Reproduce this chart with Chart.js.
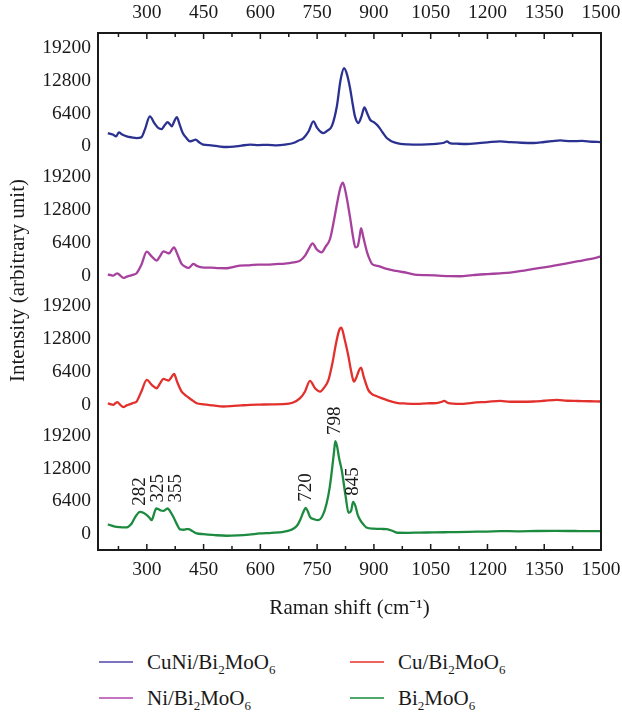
<!DOCTYPE html>
<html>
<head>
<meta charset="utf-8">
<script src="https://cdn.jsdelivr.net/npm/chart.js@4.4.1/dist/chart.umd.min.js"></script>
<style>
  body { margin: 0; background: #fff; }
  #wrap { position: relative; width: 622px; height: 714px; }
  #chart { position: absolute; left: 0; top: 0; }
  #legend {
    position: absolute; left: 99px; top: 644px;
    display: grid; grid-template-columns: 251px 200px; grid-template-rows: 36px 36px;
    grid-auto-flow: column;
    font-family: 'Liberation Serif', 'Times New Roman', serif; font-size: 21px; color: #1a1a1a;
  }
  .item { display: flex; align-items: center; }
  .swatch { width: 34px; height: 2.5px; margin-right: 14px; }
  sub { font-size: 13px; vertical-align: -5px; line-height: 0; }
</style>
</head>
<body>
<div id="wrap">
  <canvas id="chart" width="622" height="625"></canvas>
  <div id="legend"></div>
</div>
<script>
// Raman shift ranges and tick values
const xMin = 171, xMax = 1500;
const xTicks = [300, 450, 600, 750, 900, 1050, 1200, 1350, 1500];
const yTicks = [0, 6400, 12800, 19200];
const peakMarks = [282, 325, 355, 720, 798, 845];

const sampleNames = ['CuNi/Bi2MoO6', 'Ni/Bi2MoO6', 'Cu/Bi2MoO6', 'Bi2MoO6'];

// CuNi/Bi2MoO6
const cuniX = [197, 210, 219, 226, 235, 247, 260, 273, 285, 295, 308, 320, 330, 339, 347, 355, 361, 366, 372, 379, 387, 395, 405, 414, 421, 429, 438, 449, 470, 490, 511, 530, 550, 573, 595, 620, 643, 665, 687, 700, 714, 728, 740, 750, 760, 767, 778, 789, 802, 812, 821, 829, 837, 844, 850, 859, 867, 875, 883, 890, 900, 912, 923, 934, 944, 952, 970, 990, 1014, 1040, 1065, 1085, 1093, 1100, 1120, 1146, 1170, 1200, 1234, 1260, 1290, 1322, 1350, 1370, 1392, 1420, 1450, 1475, 1498];
const cuniY = [2590, 2300, 1945, 2720, 2300, 1945, 1750, 1620, 1750, 3300, 5835, 4500, 3600, 3370, 4100, 4730, 4300, 3890, 4800, 5700, 4200, 2590, 1600, 970, 1100, 1300, 800, 330, 200, 0, -130, -50, 150, 330, 250, 300, 200, 350, 650, 1100, 1620, 3000, 4860, 3600, 2800, 2590, 3100, 3990, 7780, 13000, 15230, 14000, 11340, 8200, 5835, 4540, 5800, 7585, 6300, 5190, 4700, 3890, 2700, 1620, 1100, 840, 500, 380, 330, 380, 500, 700, 970, 650, 520, 460, 600, 780, 970, 820, 700, 650, 850, 1000, 1170, 1000, 1050, 900, 840];

// Ni/Bi2MoO6
const niX = [197, 205, 211, 217, 222, 230, 238, 247, 256, 265, 273, 285, 300, 312, 326, 335, 344, 352, 359, 365, 372, 380, 392, 400, 410, 417, 423, 432, 445, 470, 490, 511, 530, 546, 570, 595, 617, 640, 665, 687, 705, 718, 728, 738, 748, 756, 762, 772, 784, 795, 805, 812, 818, 826, 837, 845, 851, 857, 862, 866, 872, 882, 888, 895, 910, 934, 960, 990, 1014, 1040, 1070, 1100, 1128, 1160, 1200, 1234, 1260, 1290, 1322, 1350, 1380, 1410, 1440, 1470, 1498];
const niY = [195, 100, 0, 250, 450, 0, -450, -200, 0, 200, 450, 2000, 4670, 3800, 2920, 3800, 4730, 4500, 4340, 4900, 5510, 4300, 2270, 1800, 1490, 1900, 2270, 1900, 1620, 1550, 1450, 1430, 1700, 1940, 2000, 2150, 2140, 2250, 2350, 2590, 2920, 3890, 5200, 6290, 5200, 4700, 4540, 5600, 7130, 11000, 15000, 17300, 18140, 16000, 11340, 7500, 5510, 5700, 7500, 9270, 7500, 4540, 3300, 2270, 1900, 1300, 900, 500, 130, 100, 0, -100, -130, 100, 300, 450, 600, 900, 1300, 1600, 2000, 2400, 2800, 3200, 3690];

// Cu/Bi2MoO6
const cuX = [197, 205, 211, 217, 222, 230, 238, 247, 256, 265, 273, 285, 300, 313, 326, 335, 344, 351, 357, 364, 372, 380, 392, 400, 410, 420, 432, 450, 475, 502, 530, 550, 573, 600, 630, 661, 685, 705, 718, 731, 745, 758, 768, 780, 790, 800, 808, 814, 822, 832, 840, 847, 855, 861, 866, 873, 885, 895, 903, 920, 938, 960, 985, 1014, 1040, 1065, 1080, 1086, 1095, 1128, 1160, 1200, 1234, 1260, 1290, 1322, 1350, 1384, 1410, 1440, 1470, 1498];
const cuY = [320, 100, 0, 300, 520, 0, -450, -100, 130, 400, 650, 2500, 4860, 3900, 3240, 4200, 5050, 4900, 4730, 5300, 6030, 4500, 2590, 2000, 1430, 900, 320, 100, -100, -320, -200, -100, 0, 50, 100, 130, 400, 1300, 2600, 4670, 3200, 2590, 3300, 4860, 8000, 12000, 14500, 15030, 13000, 9720, 6500, 4540, 5600, 6800, 7260, 5500, 2920, 2100, 1810, 1300, 840, 400, 250, 190, 300, 350, 600, 780, 400, 190, 400, 600, 780, 600, 600, 650, 800, 970, 800, 750, 700, 650];

// Bi2MoO6
const biX = [197, 205, 211, 220, 230, 240, 247, 254, 260, 270, 282, 292, 300, 307, 313, 320, 325, 330, 337, 344, 350, 355, 362, 370, 379, 388, 398, 405, 410, 420, 432, 450, 480, 511, 540, 570, 599, 630, 661, 680, 696, 706, 713, 720, 726, 731, 742, 753, 765, 775, 783, 789, 795, 798, 803, 808, 815, 825, 833, 840, 845, 851, 857, 864, 872, 880, 900, 920, 934, 950, 961, 990, 1020, 1058, 1100, 1150, 1200, 1234, 1280, 1330, 1380, 1430, 1470, 1498];
const biY = [1880, 1700, 1555, 1400, 1350, 1300, 1300, 1600, 2070, 3400, 4340, 4100, 3690, 3200, 2720, 4200, 4990, 4900, 4600, 4540, 4800, 4990, 4400, 3370, 2000, 910, 850, 950, 970, 600, 130, 0, -200, -320, -250, -100, 130, 250, 450, 800, 1560, 2900, 4200, 5120, 4300, 3370, 2900, 2720, 3700, 5960, 9000, 12440, 16300, 18140, 17000, 14800, 12440, 7500, 4150, 4600, 6290, 5500, 3800, 2720, 1900, 1300, 1050, 1000, 970, 600, 260, 250, 300, 320, 380, 450, 500, 580, 550, 600, 620, 600, 580, 580];

const lineColors = ['#2b3191', '#a7419e', '#e2312d', '#1c8b3f'];
const swatchColors = ['#7b72c2', '#c474c0', '#f0625e', '#4fa86d'];
const axisIds = ['yCuNi', 'yNi', 'yCu', 'yBi'];

const FONT = "'Liberation Serif', 'Times New Roman', serif";
const tickFont = { family: FONT, size: 19.5 };
const inkColor = '#1a1a1a';

const toPoints = (xs, ys) => xs.map((x, i) => ({ x: x, y: ys[i] }));
const seriesX = [cuniX, niX, cuX, biX];
const seriesY = [cuniY, niY, cuY, biY];

const datasets = sampleNames.map((name, i) => ({
  label: name,
  data: toPoints(seriesX[i], seriesY[i]),
  yAxisID: axisIds[i],
  borderColor: lineColors[i],
  borderWidth: 2.3,
  pointRadius: 0,
  cubicInterpolationMode: 'monotone',
  fill: false
}));

function panelAxis() {
  return {
    type: 'linear',
    position: 'left',
    stack: 'panels',
    stackWeight: 1,
    min: -3100,
    max: 22100,
    afterBuildTicks: s => { s.ticks = yTicks.map(v => ({ value: v })); },
    afterFit: s => { s.width = 98; s.paddingTop = 0; s.paddingBottom = 0; },
    grid: { display: false, drawTicks: false },
    border: { display: false },
    ticks: { font: tickFont, color: inkColor, padding: 7, autoSkip: false, callback: v => String(v) }
  };
}

function ramanAxis(pos, height) {
  return {
    type: 'linear',
    position: pos,
    min: xMin,
    max: xMax,
    afterBuildTicks: s => { s.ticks = xTicks.map(v => ({ value: v })); },
    afterFit: s => { s.height = height; s.paddingLeft = 0; s.paddingRight = 0; },
    grid: { display: false, drawTicks: false },
    border: { display: false },
    ticks: { font: tickFont, color: inkColor, padding: 8, maxRotation: 0, autoSkip: false, callback: v => String(v) }
  };
}

// stacked panels: first axis in the stack sits at the bottom
const scales = {
  x: Object.assign(ramanAxis('bottom', 75), {
    title: { display: true, text: 'Raman shift (cm\u207B\u00B9)', font: { family: FONT, size: 21 }, color: inkColor, padding: { top: 10 } }
  }),
  x2: ramanAxis('top', 33),
  yBi: panelAxis(),
  yCu: panelAxis(),
  yNi: panelAxis(),
  yCuNi: panelAxis()
};

// box around the plot with inward tick marks on top and bottom
const framePlugin = {
  id: 'frame',
  afterDatasetsDraw(chart) {
    const { ctx, chartArea: a, scales } = chart;
    ctx.save();
    ctx.strokeStyle = inkColor;
    ctx.lineWidth = 1.5;
    for (let v = 225; v <= xMax; v += 75) {
      const px = scales.x.getPixelForValue(v);
      const len = v % 150 === 0 ? 6 : 4;
      ctx.beginPath();
      ctx.moveTo(px, a.bottom); ctx.lineTo(px, a.bottom - len);
      ctx.moveTo(px, a.top); ctx.lineTo(px, a.top + len);
      ctx.stroke();
    }
    ctx.lineWidth = 2;
    ctx.strokeRect(a.left, a.top, a.right - a.left, a.bottom - a.top);

    // y axis title
    ctx.fillStyle = inkColor;
    ctx.font = '21px ' + FONT;
    ctx.translate(18, (a.top + a.bottom) / 2 - 11);
    ctx.rotate(-Math.PI / 2);
    ctx.textAlign = 'center';
    ctx.textBaseline = 'middle';
    ctx.fillText('Intensity (arbitrary unit)', 0, 0);
    ctx.restore();
  }
};

// vertical peak position labels above the Bi2MoO6 trace,
// pushed apart when neighbouring peaks are too close
const peakPlugin = {
  id: 'peaks',
  afterDatasetsDraw(chart) {
    const { ctx, scales } = chart;
    ctx.save();
    ctx.fillStyle = inkColor;
    ctx.font = '19px ' + FONT;
    ctx.textAlign = 'left';
    ctx.textBaseline = 'middle';
    let lastX = -Infinity;
    peakMarks.forEach(v => {
      const i = biX.indexOf(v);
      const px = Math.max(scales.x.getPixelForValue(v), lastX + 18);
      const py = scales.yBi.getPixelForValue(biY[i]) - 6;
      lastX = px;
      ctx.save();
      ctx.translate(px, py);
      ctx.rotate(-Math.PI / 2);
      ctx.fillText(String(v), 0, 0);
      ctx.restore();
    });
    ctx.restore();
  }
};

const chart = new Chart(document.getElementById('chart'), {
  type: 'line',
  data: { datasets: datasets },
  options: {
    responsive: false,
    animation: false,
    layout: { padding: { left: 0, right: 21, top: 0, bottom: 0 } },
    plugins: { legend: { display: false }, tooltip: { enabled: false } },
    scales: scales
  },
  plugins: [framePlugin, peakPlugin]
});

// legend in two columns with subscripted formulas
const legendEl = document.getElementById('legend');
sampleNames.forEach((name, i) => {
  const item = document.createElement('div');
  item.className = 'item';
  const sw = document.createElement('span');
  sw.className = 'swatch';
  sw.style.background = swatchColors[i];
  const txt = document.createElement('span');
  txt.innerHTML = name.replace(/(\d)/g, '<sub>$1</sub>');
  item.appendChild(sw);
  item.appendChild(txt);
  legendEl.appendChild(item);
});
</script>
</body>
</html>
